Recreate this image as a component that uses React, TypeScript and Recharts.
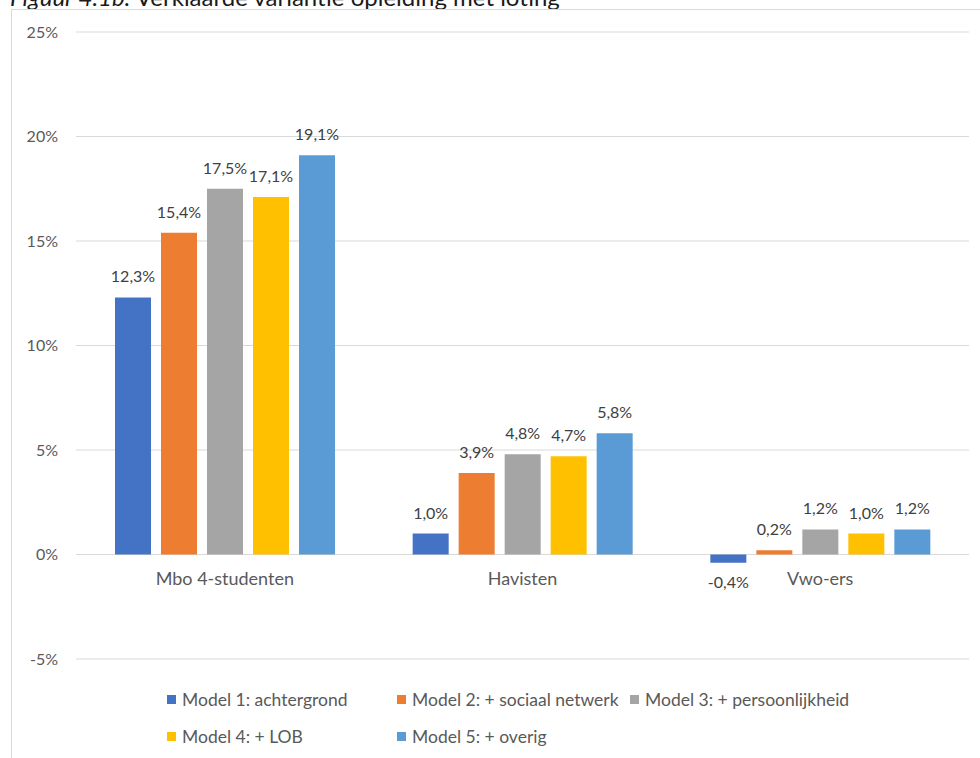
import { BarChart, Bar, XAxis, YAxis, CartesianGrid, LabelList } from "recharts";

const categories = ["Mbo 4-studenten", "Havisten", "Vwo-ers"];
const model1 = [12.3, 1.0, -0.4];
const model2 = [15.4, 3.9, 0.2];
const model3 = [17.5, 4.8, 1.2];
const model4 = [17.1, 4.7, 1.0];
const model5 = [19.1, 5.8, 1.2];
const yTicks = [-5, 0, 5, 10, 15, 20, 25];

const series = [
  { key: "m1", name: "Model 1: achtergrond", color: "#4472C4", values: model1 },
  { key: "m2", name: "Model 2: + sociaal netwerk", color: "#ED7D31", values: model2 },
  { key: "m3", name: "Model 3: + persoonlijkheid", color: "#A5A5A5", values: model3 },
  { key: "m4", name: "Model 4: + LOB", color: "#FFC000", values: model4 },
  { key: "m5", name: "Model 5: + overig", color: "#5B9BD5", values: model5 },
];

const data = categories.map((c, i) => {
  const row: any = { name: c };
  series.forEach((s) => (row[s.key] = s.values[i]));
  return row;
});

const FONT = "Lato, 'Noto Sans', sans-serif";
const W = 980;
const H = 758;
const MARGIN = { top: 32, right: 11, bottom: 69, left: 0 };
const X_AXIS_H = 30;
const Y_MIN = -5;
const Y_MAX = 25;
const PLOT_H = H - MARGIN.top - MARGIN.bottom - X_AXIS_H;
const ZERO_SHIFT = (PLOT_H * (0 - Y_MIN)) / (Y_MAX - Y_MIN);

const fmt = (v: number) => v.toFixed(1).replace(".", ",") + "%";

// Excel-style: category labels sit just under the 0% line
function CategoryTick(props: any) {
  const { x, y, payload } = props;
  return (
    <text x={x} y={y - ZERO_SHIFT + 30} textAnchor="middle" fill="#595959" fontSize={18} fontFamily={FONT}>
      {payload.value}
    </text>
  );
}

function ValueLabel(props: any) {
  const { x, y, width, height, value } = props;
  const top = Math.min(y, y + height);
  const bottom = Math.max(y, y + height);
  const neg = value < 0;
  return (
    <text
      x={x + width / 2}
      y={neg ? bottom + 25 : top - 15}
      textAnchor="middle"
      fill="#404040"
      fontSize={16}
      fontFamily={FONT}
    >
      {fmt(value)}
    </text>
  );
}

const legendRows = [
  [series[0], series[1], series[2]],
  [series[3], series[4]],
];
const legendCols = [230, 233, 260];

export default function App() {
  return (
    <div style={{ position: "fixed", left: 0, top: 0, width: W, height: H, overflow: "hidden", background: "#fff" }}>
      <div
        style={{
          position: "absolute",
          left: 10,
          top: -15,
          fontFamily: FONT,
          fontSize: 24,
          lineHeight: "24px",
          color: "#1a1a1a",
          whiteSpace: "nowrap",
        }}
      >
        <i>Figuur 4.1b:</i> Verklaarde variantie opleiding met loting
      </div>
      <div
        style={{
          position: "absolute",
          left: 11,
          top: 9,
          width: 1000,
          height: 800,
          border: "1px solid #d9d9d9",
        }}
      />
      <div style={{ position: "absolute", left: 0, top: 0 }}>
        <BarChart width={W} height={H} data={data} margin={MARGIN} barSize={36} barGap={10}>
          <CartesianGrid horizontal vertical={false} stroke="#d9d9d9" />
          <XAxis
            dataKey="name"
            height={X_AXIS_H}
            axisLine={false}
            tickLine={false}
            tickSize={0}
            tickMargin={0}
            tick={<CategoryTick />}
            interval={0}
          />
          <YAxis
            width={76}
            domain={[Y_MIN, Y_MAX]}
            ticks={yTicks}
            interval={0}
            axisLine={false}
            tickLine={false}
            tickSize={0}
            tickMargin={18}
            tickFormatter={(v: number) => `${v}%`}
            tick={{ fill: "#595959", fontSize: 16, fontFamily: FONT }}
          />
          {series.map((s) => (
            <Bar key={s.key} dataKey={s.key} name={s.name} fill={s.color} isAnimationActive={false}>
              <LabelList dataKey={s.key} content={<ValueLabel />} />
            </Bar>
          ))}
        </BarChart>
      </div>
      <div style={{ position: "absolute", left: 167, top: 681, fontFamily: FONT, fontSize: 17.5, color: "#595959" }}>
        {legendRows.map((row, ri) => (
          <div key={ri} style={{ display: "flex", height: 37, alignItems: "center" }}>
            {row.map((s, ci) => (
              <div key={s.key} style={{ display: "flex", alignItems: "center", width: legendCols[ci], whiteSpace: "nowrap" }}>
                <span style={{ width: 9, height: 9, background: s.color, marginRight: 6, display: "inline-block" }} />
                <span>{s.name}</span>
              </div>
            ))}
          </div>
        ))}
      </div>
    </div>
  );
}
